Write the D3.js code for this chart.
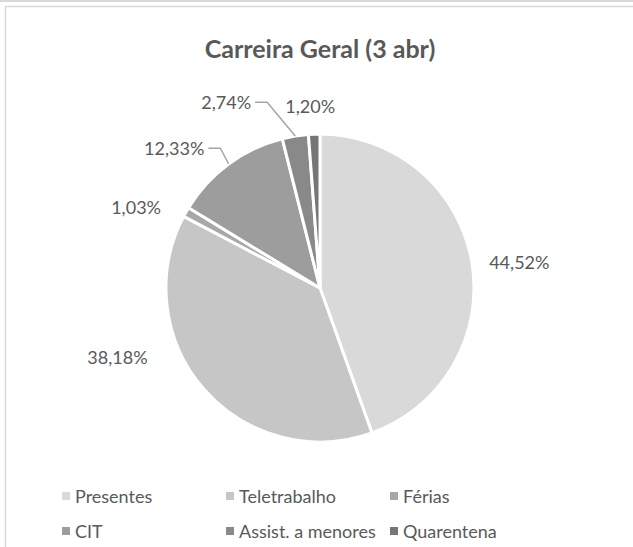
<!DOCTYPE html>
<html>
<head>
<meta charset="utf-8">
<script src="https://cdn.jsdelivr.net/npm/d3@7"></script>
<style>
  html, body { margin: 0; padding: 0; background: #ffffff; }
  svg { display: block; }
  text { font-family: Lato, "Open Sans", sans-serif; }
</style>
</head>
<body>
<svg id="chart" width="633" height="547"></svg>
<script>
// ---- data ----
const categories = ["Presentes", "Teletrabalho", "Férias", "CIT", "Assist. a menores", "Quarentena"];
const values = [44.52, 38.18, 1.03, 12.33, 2.74, 1.20];
const valueLabels = ["44,52%", "38,18%", "1,03%", "12,33%", "2,74%", "1,20%"];
const title = "Carreira Geral (3 abr)";

// ---- styles / layout ----
const colors = ["#d9d9d9", "#c6c6c6", "#a8a8a8", "#9d9d9d", "#898989", "#767676"];
// label placement (angle in degrees clockwise from top, distance from centre), leader flag
const labelLayout = [
  {a: 82.6, d: 201, leader: false},
  {a: 251.2, d: 214, leader: false},
  {a: 293.8, d: 201, leader: false},
  {a: 313.8, d: 202, leader: true},
  {a: 333.2, d: 208, leader: true},
  {a: 356.9, d: 182, leader: false}
];

const W = 633, H = 547;
const cx = 320, cy = 288, R = 154;
const textColor = "#595959";

const svg = d3.select("#chart");

// outer frame lines
svg.append("line").attr("x1", 0).attr("x2", W).attr("y1", 1).attr("y2", 1)
  .attr("stroke", "#d9d9d9").attr("stroke-width", 2);
svg.append("rect").attr("x", 5.5).attr("y", 6.5).attr("width", W + 20).attr("height", H + 20)
  .attr("fill", "#fff").attr("stroke", "#d9d9d9").attr("stroke-width", 1.5);

// title
svg.append("text").attr("x", cx).attr("y", 58)
  .attr("text-anchor", "middle")
  .attr("font-size", 25).attr("font-weight", "bold")
  .attr("fill", textColor).text(title);

const pie = d3.pie().sort(null).value(d => d)(values);
const arc = d3.arc().innerRadius(0).outerRadius(R);

const g = svg.append("g").attr("transform", `translate(${cx},${cy})`);
g.selectAll("path.slice").data(pie).join("path")
  .attr("class", "slice")
  .attr("d", arc)
  .attr("fill", (d, i) => colors[i])
  .attr("stroke", "#ffffff").attr("stroke-width", 3).attr("stroke-linejoin", "round");

// labels
const rad = a => a * Math.PI / 180;
pie.forEach((d, i) => {
  const L = labelLayout[i];
  const lx = L.d * Math.sin(rad(L.a));
  const ly = -L.d * Math.cos(rad(L.a));
  const t = g.append("text").attr("x", lx).attr("y", ly)
    .attr("text-anchor", "middle").attr("dominant-baseline", "central")
    .attr("font-size", 18).attr("fill", textColor).text(valueLabels[i]);
  if (L.leader) {
    const bb = t.node().getBBox();
    const mid = (d.startAngle + d.endAngle) / 2;
    const px = R * Math.sin(mid), py = -R * Math.cos(mid);
    const x0 = bb.x + bb.width + 4, y0 = ly;
    const x1 = Math.min(x0 + 12, px - 1);
    g.append("polyline")
      .attr("points", `${x0},${y0} ${x1},${y0} ${px},${py}`)
      .attr("fill", "none").attr("stroke", "#a6a6a6").attr("stroke-width", 1.5);
  }
});

// legend
const legendCols = [62, 226, 390];
const legendRows = [496, 531];
categories.forEach((c, i) => {
  const x = legendCols[i % 3], y = legendRows[Math.floor(i / 3)];
  svg.append("rect").attr("x", x).attr("y", y - 4).attr("width", 8).attr("height", 8)
    .attr("fill", colors[i]);
  svg.append("text").attr("x", x + 13).attr("y", y)
    .attr("dominant-baseline", "central")
    .attr("font-size", 18).attr("fill", textColor).text(c);
});
</script>
</body>
</html>
